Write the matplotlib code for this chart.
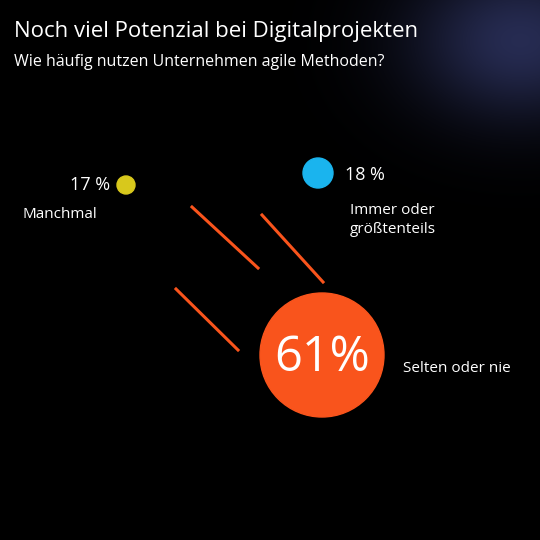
import numpy as np
import matplotlib.pyplot as plt
from matplotlib.patches import Circle

categories = ["Manchmal", "Immer oder\ngrößtenteils", "Selten oder nie"]
values = [17, 18, 61]
value_labels = ["17 %", "18 %", "61%"]
colors = ["#d8c81c", "#1ab4ee", "#f9541c"]

# style / layout (pixel coords)
centers = [(126, 185), (318, 173), (322, 355)]
radii = [9, 15, 62]

fig = plt.figure(figsize=(5.4, 5.4), dpi=100, facecolor="black")
ax = fig.add_axes([0, 0, 1, 1])
ax.set_xlim(0, 540); ax.set_ylim(540, 0); ax.axis("off")
ax.set_facecolor("black")

# faint nebula glow top-right
yy, xx = np.mgrid[0:540, 0:540]
glow = np.exp(-(((xx - 520) / 110) ** 2 + ((yy - 40) / 80) ** 2))
img = np.zeros((540, 540, 3))
img[..., 0] = 0.15 * glow; img[..., 1] = 0.17 * glow; img[..., 2] = 0.32 * glow
ax.imshow(img, extent=(0, 540, 540, 0), zorder=0)

ff = "Open Sans"
ax.text(14, 32, "Noch viel Potenzial bei Digitalprojekten", color="white", fontsize=16, family=ff, va="center")
ax.text(14, 62, "Wie häufig nutzen Unternehmen agile Methoden?", color="white", fontsize=11.5, family=ff, va="center")

for (x0, y0, x1, y1) in [(192, 207, 258, 268), (262, 215, 323, 282), (176, 289, 238, 350)]:
    ax.plot([x0, x1], [y0, y1], color="#f9541c", lw=2.2, zorder=2)

for (cx, cy), r, c in zip(centers, radii, colors):
    ax.add_patch(Circle((cx, cy), r, color=c, zorder=3))

ax.text(110, 185, value_labels[0], color="white", fontsize=13, family=ff, ha="right", va="center")
ax.text(22, 215, categories[0], color="white", fontsize=11, family=ff, va="center")
ax.text(345, 175, value_labels[1], color="white", fontsize=13, family=ff, va="center")
ax.text(350, 220, categories[1], color="white", fontsize=11, family=ff, va="center", linespacing=1.4)
ax.text(322, 358, value_labels[2], color="white", fontsize=35, family=ff, ha="center", va="center", zorder=4)
ax.text(403, 368, categories[2], color="white", fontsize=11, family=ff, va="center")

fig.savefig("out.png", dpi=100, facecolor="black")
